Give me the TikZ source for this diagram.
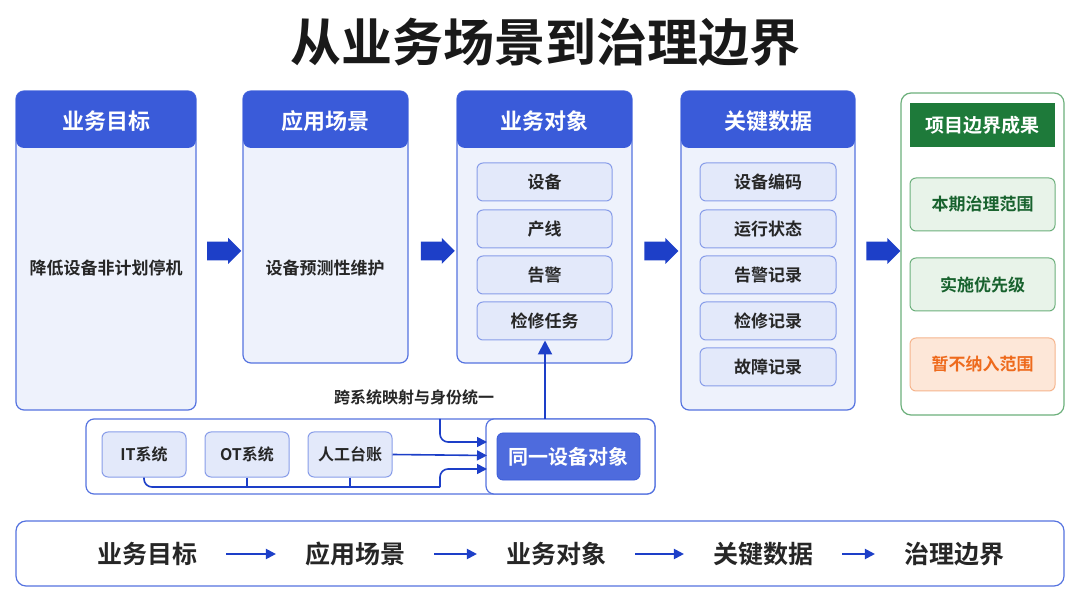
\documentclass[tikz,border=0pt]{standalone}
\usepackage{fontspec}
\setmainfont{Noto Sans CJK SC}[BoldFont={Noto Sans CJK SC Bold}]
\usetikzlibrary{positioning,arrows.meta,shapes.arrows}
\definecolor{hdrblue}{HTML}{3A5BD9}
\definecolor{lineblue}{HTML}{5573E0}
\definecolor{paleblue}{HTML}{EEF2FC}
\definecolor{itemblue}{HTML}{E3E9FA}
\definecolor{arrblue}{HTML}{1D3FC8}
\definecolor{darkgreen}{HTML}{1E7A3A}
\definecolor{palegreen}{HTML}{E8F3E9}
\definecolor{linegreen}{HTML}{6DB07C}
\definecolor{paleorange}{HTML}{FDE7D8}
\definecolor{orangetxt}{HTML}{EE6A1C}
\tikzset{
  panel/.style={draw=lineblue, fill=paleblue, rounded corners=4pt, line width=0.6pt},
  head/.style={fill=hdrblue, text=white, font=\bfseries\fontsize{11}{12}\selectfont},
  item/.style={draw=lineblue!70, fill=itemblue, rounded corners=3pt, line width=0.5pt,
    font=\bfseries\fontsize{8.5}{10}\selectfont, text=black!85},
  gitem/.style={draw=linegreen, fill=palegreen, rounded corners=3pt, line width=0.5pt,
    font=\bfseries\fontsize{8.5}{10}\selectfont, text=darkgreen!80!black, minimum width=72.5pt, minimum height=26.5pt},
  bigarrow/.style={single arrow, fill=arrblue, minimum height=17pt, minimum width=13pt,
    single arrow head extend=1pt, inner sep=2.5pt},
  link/.style={draw=arrblue, line width=0.8pt, rounded corners=4pt, -{Triangle[length=5pt,width=5pt]}},
  flow/.style={font=\bfseries\fontsize{12.5}{14}\selectfont, text=black!85},
}
\begin{document}
\begin{tikzpicture}[x=0.5pt,y=-0.5pt]
  \useasboundingbox (0,0) rectangle (1080,608);
  \fill[white] (0,0) rectangle (1080,608);

  % Title
  \node[font=\bfseries\fontsize{25.5}{30}\selectfont, text=black!90] (title) at (545,42) {从业务场景到治理边界};

  % Column panels
  \draw[panel] (16,91) rectangle (196,410);
  \draw[panel] (243,91) rectangle (408,363);
  \draw[panel] (457,91) rectangle (632,363);
  \draw[panel] (681,91) rectangle (855,410);
  \fill[hdrblue, rounded corners=4pt] (16,91) rectangle (196,148);
  \fill[hdrblue, rounded corners=4pt] (243,91) rectangle (408,148);
  \fill[hdrblue, rounded corners=4pt] (457,91) rectangle (632,148);
  \fill[hdrblue, rounded corners=4pt] (681,91) rectangle (855,148);
  \node[head] (goal) at (106,121) {业务目标};
  \node[head] (scene) at (325,121) {应用场景};
  \node[head] (obj) at (544,121) {业务对象};
  \node[head] (data) at (768,121) {关键数据};

  \node[flow, font=\bfseries\fontsize{8.5}{10}\selectfont] (goaltxt) at (106,268) {降低设备非计划停机};
  \node[flow, font=\bfseries\fontsize{8.5}{10}\selectfont] (scenetxt) at (325,268) {设备预测性维护};

  % Business objects
  \foreach \t/\y [count=\i] in {设备/182,产线/229,告警/275,检修任务/321}
    \node[item, minimum width=67.5pt, minimum height=19pt] (o\i) at (544.5,\y) {\t};
  % Key data
  \foreach \t/\y [count=\i] in {设备编码/182,运行状态/229,告警记录/275,检修记录/321,故障记录/367}
    \node[item, minimum width=68pt, minimum height=19pt] (d\i) at (768,\y) {\t};

  % Boundary result column
  \draw[draw=linegreen, fill=white, rounded corners=5pt, line width=0.6pt] (901,93) rectangle (1064,415);
  \node[fill=darkgreen, text=white, font=\bfseries\fontsize{9.5}{11}\selectfont,
    minimum width=72.5pt, minimum height=22pt] (res) at (982.5,125) {项目边界成果};
  \node[gitem] (r1) at (982.5,204.5) {本期治理范围};
  \node[gitem] (r2) at (982.5,284.5) {实施优先级};
  \node[gitem, draw=orangetxt!50, fill=paleorange, text=orangetxt] (r3) at (982.5,364.5) {暂不纳入范围};

  % Arrows between columns
  \foreach \x in {219.5,433,656.5,878.5}
    \node[bigarrow] at (\x,251) {};

  % Mapping panel
  \draw[panel, fill=white] (86,419) rectangle (655,494);
  \draw[panel, fill=white] (486,419) rectangle (655,494);
  \node[item, minimum width=42pt, minimum height=22.5pt, font=\bfseries\fontsize{8}{10}\selectfont] (it) at (144,454.5) {IT系统};
  \node[item, minimum width=42pt, minimum height=22.5pt, font=\bfseries\fontsize{8}{10}\selectfont] (ot) at (247,454.5) {OT系统};
  \node[item, minimum width=42pt, minimum height=22.5pt, font=\bfseries\fontsize{8}{10}\selectfont] (manual) at (350,454.5) {人工台账};
  \node[fill=hdrblue!90!white, draw=hdrblue, rounded corners=3pt, text=white,
    font=\bfseries\fontsize{10}{12}\selectfont, minimum width=71.5pt, minimum height=23.5pt] (same) at (568.5,456.5) {同一设备对象};
  \node[font=\bfseries\fontsize{8}{10}\selectfont, text=black!85] (maplbl) at (414,397) {跨系统映射与身份统一};

  \coordinate (topin) at (440,419);
  \draw[link] (topin) |- (487,442);
  \draw[link] (manual.east) -- (487,455.5);
  \draw[draw=arrblue, line width=0.8pt, rounded corners=4pt] (it.south) |- (440,487);
  \draw[draw=arrblue, line width=0.8pt] (ot.south) -- (247,487);
  \draw[draw=arrblue, line width=0.8pt] (manual.south) -- (350,487);
  \draw[link] (440,487) |- (487,469);
  \draw[draw=arrblue, line width=1pt, -{Triangle[length=7pt,width=7pt]}] (545,419) -- (o4.south -| 545,365);

  % Bottom flow strip
  \draw[draw=lineblue, fill=white, rounded corners=5pt, line width=0.6pt] (16,521) rectangle (1064,586);
  \node[flow] (f1) at (147,554) {业务目标};
  \node[flow] (f2) at (355,554) {应用场景};
  \node[flow] (f3) at (556,554) {业务对象};
  \node[flow] (f4) at (763,554) {关键数据};
  \node[flow] (f5) at (954,554) {治理边界};
  \foreach \a/\b in {f1/f2,f2/f3,f3/f4,f4/f5}
    \draw[draw=arrblue, line width=1pt, -{Triangle[length=5pt,width=5pt]},
      shorten <=11pt, shorten >=11pt] (\a.east) -- (\b.west);
\end{tikzpicture}
\end{document}
